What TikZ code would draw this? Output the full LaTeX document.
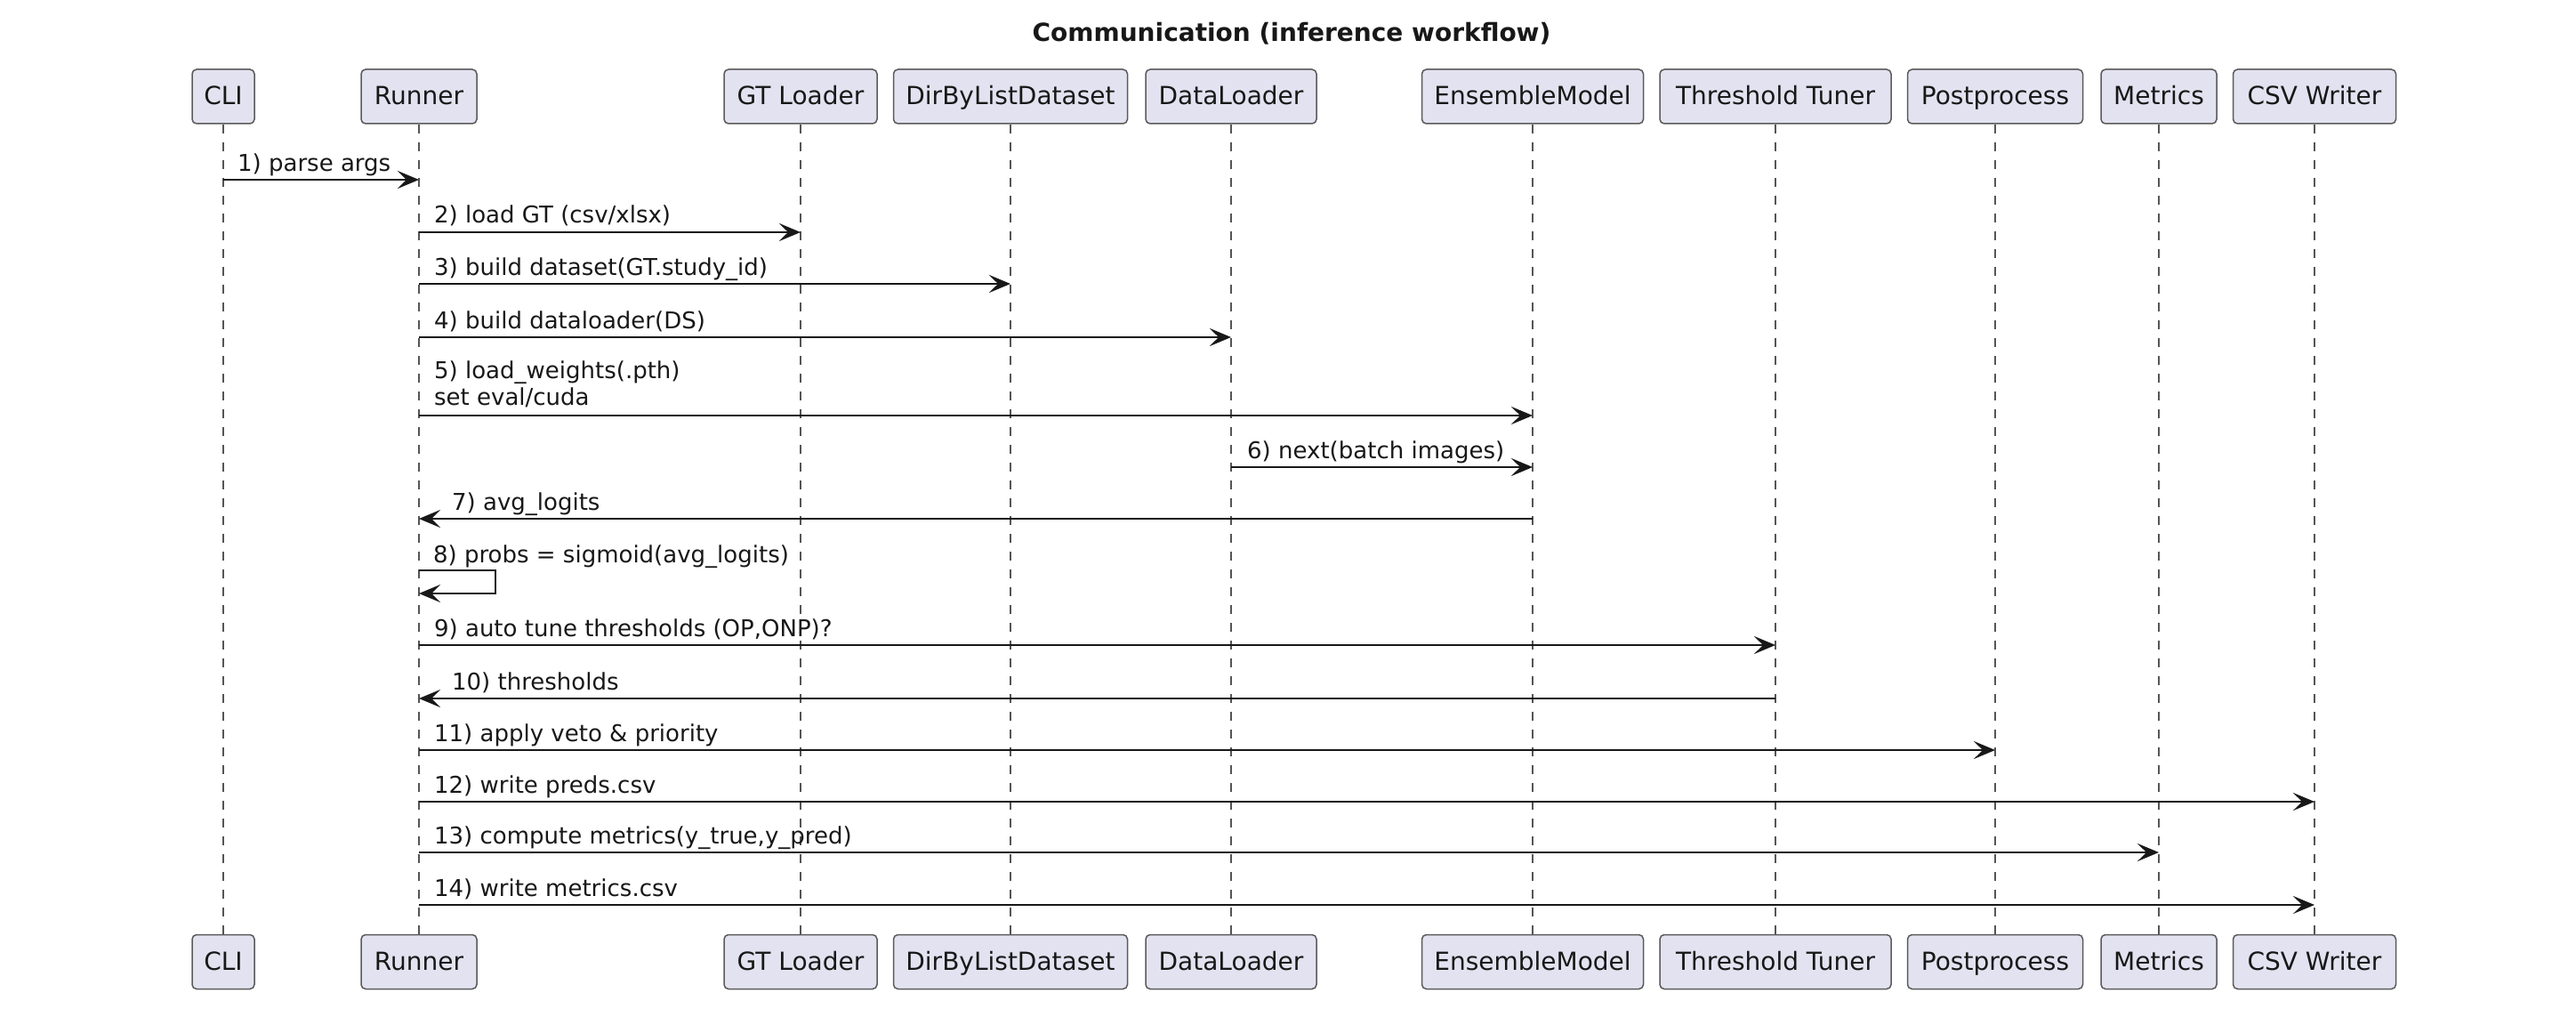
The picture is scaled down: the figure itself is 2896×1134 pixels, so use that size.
\documentclass[tikz,border=0pt]{standalone}
\usepackage{fontspec}
\setmainfont{DejaVu Sans}
\usetikzlibrary{arrows.meta}
\definecolor{boxfill}{HTML}{E2E2F0}
\definecolor{ink}{HTML}{181818}
\definecolor{boxborder}{HTML}{5A5A5A}
\definecolor{lifegray}{HTML}{555555}
\begin{document}
\begin{tikzpicture}[x=0.5pt,y=-0.5pt,
  part/.style={draw=boxborder, fill=boxfill, rounded corners=2.5pt, line width=0.75pt,
    minimum height=30.5pt, inner sep=0pt, font=\fontsize{14}{16}\selectfont, text=ink,
    text height=11.5pt, text depth=2pt},
  lifeline/.style={draw=lifegray, line width=0.55pt, dash pattern=on 5pt off 5pt},
  msg/.style={draw=ink, line width=1.15pt, -{Stealth[length=12pt,width=10pt,inset=5pt]}},
  lbl/.style={font=\fontsize{13}{15}\selectfont, text=ink, inner sep=0pt, anchor=base west},
  ttl/.style={font=\bfseries\fontsize{14}{16}\selectfont, text=ink, inner sep=0pt, anchor=base}]
\useasboundingbox[fill=white] (0,0) rectangle (2896,1134);

\node[ttl] (title) at (1452,47) {Communication (inference workflow)};

% top participants
\node[part, minimum width=35pt]   (cli) at (251,108.5)  {CLI};
\node[part, minimum width=65pt]   (run) at (471,108.5)  {Runner};
\node[part, minimum width=86pt]   (gt)  at (900,108.5)  {GT Loader};
\node[part, minimum width=131.5pt] (ds) at (1136,108.5) {DirByListDataset};
\node[part, minimum width=96pt]   (dl)  at (1384,108.5) {DataLoader};
\node[part, minimum width=124.5pt] (em) at (1723,108.5) {EnsembleModel};
\node[part, minimum width=130pt]  (tt)  at (1996,108.5) {Threshold Tuner};
\node[part, minimum width=98.5pt] (pp)  at (2243,108.5) {Postprocess};
\node[part, minimum width=65pt]   (me)  at (2427,108.5) {Metrics};
\node[part, minimum width=91.5pt] (csv) at (2602,108.5) {CSV Writer};

% bottom participants
\node[part, minimum width=35pt]   (cliB) at (251,1081)  {CLI};
\node[part, minimum width=65pt]   (runB) at (471,1081)  {Runner};
\node[part, minimum width=86pt]   (gtB)  at (900,1081)  {GT Loader};
\node[part, minimum width=131.5pt] (dsB) at (1136,1081) {DirByListDataset};
\node[part, minimum width=96pt]   (dlB)  at (1384,1081) {DataLoader};
\node[part, minimum width=124.5pt] (emB) at (1723,1081) {EnsembleModel};
\node[part, minimum width=130pt]  (ttB)  at (1996,1081) {Threshold Tuner};
\node[part, minimum width=98.5pt] (ppB)  at (2243,1081) {Postprocess};
\node[part, minimum width=65pt]   (meB)  at (2427,1081) {Metrics};
\node[part, minimum width=91.5pt] (csvB) at (2602,1081) {CSV Writer};

% lifelines
\foreach \p in {cli,run,gt,ds,dl,em,tt,pp,me,csv}
  \draw[lifeline] (\p.south) -- (\p B.north);

% messages
\draw[msg] (cli |- 0,202) -- (run |- 0,202)
  node[lbl, pos=0, xshift=7.5pt, yshift=4.5pt] {1) parse args};
\draw[msg] (run |- 0,261) -- (gt |- 0,261)
  node[lbl, pos=0, xshift=8pt, yshift=5pt] {2) load GT (csv/xlsx)};
\draw[msg] (run |- 0,319) -- (ds |- 0,319)
  node[lbl, pos=0, xshift=8pt, yshift=5pt] {3) build dataset(GT.study\_id)};
\draw[msg] (run |- 0,379) -- (dl |- 0,379)
  node[lbl, pos=0, xshift=8pt, yshift=5pt] {4) build dataloader(DS)};
\draw[msg] (run |- 0,467) -- (em |- 0,467)
  node[lbl, pos=0, xshift=8pt, yshift=6pt] {\begin{tabular}[b]{@{}l@{}}5) load\_weights(.pth)\\set eval/cuda\end{tabular}};
\draw[msg] (dl |- 0,525) -- (em |- 0,525)
  node[lbl, pos=0, xshift=8.5pt, yshift=5pt] {6) next(batch images)};
\draw[msg] (em |- 0,583) -- (run |- 0,583)
  node[lbl, pos=1, xshift=18pt, yshift=5pt] {7) avg\_logits};
\draw[msg] (run |- 0,641) node[lbl, xshift=7.5pt, yshift=4.5pt] {8) probs = sigmoid(avg\_logits)}
  -- ++(86,0) -- ++(0,26) -- (run |- 0,667);
\draw[msg] (run |- 0,725) -- (tt |- 0,725)
  node[lbl, pos=0, xshift=8pt, yshift=5pt] {9) auto tune thresholds (OP,ONP)?};
\draw[msg] (tt |- 0,785) -- (run |- 0,785)
  node[lbl, pos=1, xshift=18pt, yshift=5pt] {10) thresholds};
\draw[msg] (run |- 0,843) -- (pp |- 0,843)
  node[lbl, pos=0, xshift=8pt, yshift=5pt] {11) apply veto \& priority};
\draw[msg] (run |- 0,901) -- (csv |- 0,901)
  node[lbl, pos=0, xshift=8pt, yshift=5pt] {12) write preds.csv};
\draw[msg] (run |- 0,958) -- (me |- 0,958)
  node[lbl, pos=0, xshift=8pt, yshift=5pt] {13) compute metrics(y\_true,y\_pred)};
\draw[msg] (run |- 0,1017) -- (csv |- 0,1017)
  node[lbl, pos=0, xshift=8pt, yshift=5pt] {14) write metrics.csv};
\end{tikzpicture}
\end{document}
